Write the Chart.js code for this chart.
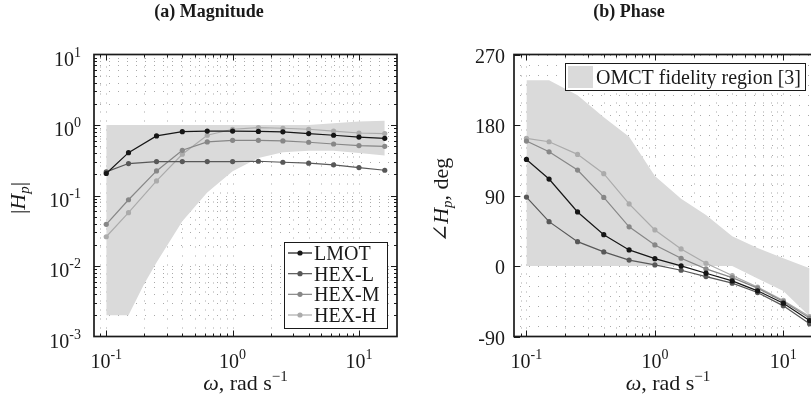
<!DOCTYPE html>
<html>
<head>
<meta charset="utf-8">
<script src="https://cdn.jsdelivr.net/npm/chart.js@4.4.1/dist/chart.umd.min.js"></script>
<style>
  html, body { margin: 0; padding: 0; background: #fff; overflow: hidden; width: 811px; height: 409px; }
  #wrap { position: relative; width: 811px; height: 409px; overflow: hidden; }
  canvas { position: absolute; top: 0; }
  #magCanvas { left: 0; width: 405px; height: 409px; }
  #phaseCanvas { left: 405px; width: 425px; height: 409px; }
</style>
</head>
<body>
<div id="wrap">
  <canvas id="magCanvas" width="405" height="409"></canvas>
  <canvas id="phaseCanvas" width="425" height="409"></canvas>
</div>
<script>
// ---- data -------------------------------------------------------------
// forcing frequencies, rad/s
const omega = [0.1, 0.15, 0.25, 0.4, 0.63, 1, 1.6, 2.5, 4, 6.3, 10, 16];

const seriesNames = ['LMOT', 'HEX-L', 'HEX-M', 'HEX-H'];

// |Hp| magnitude per configuration
const magLMOT = [0.205, 0.405, 0.70, 0.805, 0.82, 0.82, 0.81, 0.80, 0.755, 0.715, 0.675, 0.648];
const magHEXL = [0.216, 0.284, 0.303, 0.303, 0.303, 0.303, 0.306, 0.296, 0.287, 0.272, 0.249, 0.228];
const magHEXM = [0.039, 0.087, 0.223, 0.438, 0.575, 0.607, 0.607, 0.594, 0.569, 0.538, 0.51, 0.499];
const magHEXH = [0.026, 0.057, 0.161, 0.385, 0.715, 0.87, 0.918, 0.90, 0.87, 0.82, 0.77, 0.755];

// phase of Hp, deg
const phLMOT = [136, 111, 69, 40, 20.5, 9.4, 0.1, -9.2, -19, -31.7, -47.5, -69.6];
const phHEXL = [88, 56.6, 31.1, 18, 7.6, 1.4, -5.4, -13.5, -21.9, -33.9, -50.9, -73.8];
const phHEXM = [159.5, 145.8, 122.5, 87.5, 50, 26.9, 9.9, -3.7, -14.8, -28.3, -45.4, -66.5];
const phHEXH = [162.9, 158.6, 142.5, 117.8, 79.2, 46, 21.8, 3.5, -12.2, -27, -44, -64.5];

// OMCT fidelity region bounds
const regionMagOmega = [0.1, 0.15, 0.2, 0.25, 0.4, 0.63, 1, 1.6, 2.5, 4, 6.3, 10, 16];
const regionMagUpper = [1, 1, 1, 1, 1, 1, 1, 1, 1, 1, 1.06, 1.12, 1.15];
const regionMagLower = [0.002, 0.002, 0.0056, 0.0112, 0.043, 0.11, 0.22, 0.34, 0.41, 0.43, 0.43, 0.40, 0.37];

const regionPhOmega = [0.1, 0.15, 0.25, 0.4, 0.63, 1, 1.6, 2.5, 4, 6.3, 10, 16];
const regionPhUpper = [237, 237, 218, 190, 165, 115, 86, 65, 38, 23, 10, -3];
const regionPhLower = [0, 0, 0, 0, 0, 0, 0, 0, 0, -16, -32, -64];

const regionName = 'OMCT fidelity region [3]';

// tick labels
const omegaTickValues = [0.1, 1, 10];
const omegaTickExps = ['-1', '0', '1'];
const magTickValues = [0.001, 0.01, 0.1, 1, 10];
const magTickExps = ['-3', '-2', '-1', '0', '1'];
const phTickValues = [-90, 0, 90, 180, 270];
const phTickLabels = ['-90', '0', '90', '180', '270'];

// ---- style -------------------------------------------------------------
const SERIF = '"Liberation Serif", "DejaVu Serif", serif';
const seriesColors = ['#161616', '#585858', '#878787', '#ababab'];
const REGION_COLOR = '#dadada';
const GRID_COLOR = '#a9a9a9';
const INK = '#1a1a1a';

function fnt(size, style) { return (style ? style + ' ' : '') + size + 'px ' + SERIF; }

function drawRich(ctx, parts, x, y, align) {
  let w = 0;
  parts.forEach(p => { ctx.font = p.f; p.w = ctx.measureText(p.t).width; w += p.w; });
  let cx = align === 'center' ? x - w / 2 : align === 'right' ? x - w : x;
  ctx.textAlign = 'left';
  ctx.textBaseline = 'alphabetic';
  parts.forEach(p => { ctx.font = p.f; ctx.fillText(p.t, cx, y + (p.dy || 0)); cx += p.w; });
}

function logTicks(min, max) {
  const out = [];
  for (let e = Math.floor(Math.log10(min)); e <= Math.ceil(Math.log10(max)); e++) {
    for (let k = 1; k <= 9; k++) {
      const v = k * Math.pow(10, e);
      if (v > min * 1.0001 && v < max * 0.9999) out.push({ v, major: k === 1 });
    }
  }
  return out;
}
function phaseTicks() {
  const out = [];
  for (let i = 0; i <= 28; i++) out.push({ v: -90 + i * 90 / 7, major: i % 7 === 0 });
  return out;
}

function pts(xs, ys) { return xs.map((x, i) => ({ x, y: ys[i] })); }

function seriesSets(arrays) {
  return arrays.map((arr, i) => ({
    label: seriesNames[i],
    data: pts(omega, arr),
    borderColor: seriesColors[i],
    backgroundColor: seriesColors[i],
    borderWidth: 1.2,
    pointRadius: 2.6,
    pointBorderWidth: 0,
    pointBackgroundColor: seriesColors[i],
    fill: false,
    tension: 0,
    order: i + 1
  }));
}
function regionSets(xs, upper, lower) {
  return [
    { label: regionName, data: pts(xs, upper), borderWidth: 0, pointRadius: 0,
      backgroundColor: REGION_COLOR, borderColor: 'rgba(0,0,0,0)', fill: '+1', order: 10 },
    { label: 'lower', data: pts(xs, lower), borderWidth: 0, pointRadius: 0,
      borderColor: 'rgba(0,0,0,0)', fill: false, order: 11 }
  ];
}

// grid, frame, tick marks and all annotation text
function decorPlugin(cfg) {
  return {
    id: 'decor',
    beforeDatasetsDraw(chart) {
      const { ctx, chartArea: ca } = chart;
      const xs = chart.scales.x, ys = chart.scales.y;
      ctx.save();
      ctx.beginPath(); ctx.rect(ca.left, ca.top, ca.width, ca.height); ctx.clip();
      ctx.strokeStyle = GRID_COLOR; ctx.lineWidth = 1; ctx.setLineDash([1, 8]);
      cfg.xTicks.forEach(t => {
        const px = Math.round(xs.getPixelForValue(t.v)) + 0.5;
        ctx.beginPath(); ctx.moveTo(px, ca.top + 3); ctx.lineTo(px, ca.bottom); ctx.stroke();
      });
      cfg.yTicks.forEach(t => {
        const py = Math.round(ys.getPixelForValue(t.v)) + 0.5;
        ctx.beginPath(); ctx.moveTo(ca.left + 6, py); ctx.lineTo(ca.right, py); ctx.stroke();
      });
      ctx.restore();
    },
    afterDatasetsDraw(chart) {
      const { ctx, chartArea: ca } = chart;
      const xs = chart.scales.x, ys = chart.scales.y;
      ctx.save();
      ctx.strokeStyle = INK; ctx.lineWidth = 1;
      cfg.xTicks.forEach(t => {
        const px = Math.round(xs.getPixelForValue(t.v)) + 0.5;
        const len = t.major ? 6 : 3;
        ctx.beginPath();
        ctx.moveTo(px, ca.bottom); ctx.lineTo(px, ca.bottom - len);
        ctx.moveTo(px, ca.top); ctx.lineTo(px, ca.top + len);
        ctx.stroke();
      });
      cfg.yTicks.forEach(t => {
        if (!t.major && !cfg.yMinorTicks) return;
        const py = Math.round(ys.getPixelForValue(t.v)) + 0.5;
        const len = t.major ? 6 : 3;
        ctx.beginPath();
        ctx.moveTo(ca.left, py); ctx.lineTo(ca.left + len, py);
        ctx.moveTo(ca.right, py); ctx.lineTo(ca.right - len, py);
        ctx.stroke();
      });
      ctx.lineWidth = 1.7;
      ctx.strokeRect(ca.left, ca.top, ca.width, ca.height);
      ctx.restore();
    },
    afterDraw(chart) {
      const { ctx, chartArea: ca } = chart;
      const xs = chart.scales.x, ys = chart.scales.y;
      ctx.save();
      ctx.fillStyle = INK;
      // x tick labels
      omegaTickValues.forEach((v, i) => {
        drawRich(ctx, [{ t: '10', f: fnt(20) }, { t: omegaTickExps[i], f: fnt(14), dy: -9 }],
          xs.getPixelForValue(v), ca.bottom + 31.5, 'center');
      });
      // y tick labels
      cfg.drawYLabels(ctx, ca, ys);
      // x axis title
      drawRich(ctx, [
        { t: 'ω', f: fnt(22, 'italic') },
        { t: ', rad s', f: fnt(22) },
        { t: '−1', f: fnt(15), dy: -9 }
      ], (ca.left + ca.right) / 2, ca.bottom + 53.5, 'center');
      // y axis title
      ctx.save();
      ctx.translate(cfg.yTitleX, cfg.yTitleY);
      ctx.rotate(-Math.PI / 2);
      drawRich(ctx, cfg.yTitleParts, 0, 0, 'center');
      ctx.restore();
      // panel title
      ctx.font = fnt(18, 'bold');
      ctx.textAlign = 'center'; ctx.textBaseline = 'alphabetic';
      ctx.fillText(cfg.title, cfg.titleX, 17);
      // legend
      cfg.drawLegend(ctx);
      ctx.restore();
    }
  };
}

function baseOptions(yScale, pad) {
  return {
    responsive: false,
    animation: false,
    devicePixelRatio: 1,
    layout: { padding: pad },
    plugins: { legend: { display: false }, tooltip: { enabled: false } },
    scales: {
      x: { type: 'logarithmic', min: 0.08, max: 20, display: false },
      y: Object.assign({ display: false }, yScale)
    }
  };
}

// ---- (a) magnitude ----------------------------------------------------
const magCfg = {
  xTicks: logTicks(0.08, 20),
  yTicks: logTicks(0.001, 10),
  yMinorTicks: true,
  title: '(a) Magnitude',
  titleX: 209,
  yTitleX: 25, yTitleY: 198,
  yTitleParts: [
    { t: '|', f: fnt(22) },
    { t: 'H', f: fnt(22, 'italic') },
    { t: 'p', f: fnt(15, 'italic'), dy: 4 },
    { t: '|', f: fnt(22) }
  ],
  drawYLabels(ctx, ca, ys) {
    magTickValues.forEach((v, i) => {
      const py = ys.getPixelForValue(v);
      drawRich(ctx, [{ t: '10', f: fnt(20) }, { t: magTickExps[i], f: fnt(14), dy: -9 }],
        ca.left - 13, py + 11.3, 'right');
    });
  },
  drawLegend(ctx) {
    const bx = 284.5, by = 242.5, bw = 103, bh = 86;
    ctx.fillStyle = '#fff';
    ctx.fillRect(bx, by, bw, bh);
    ctx.strokeStyle = INK; ctx.lineWidth = 1;
    ctx.strokeRect(bx, by, bw, bh);
    seriesNames.forEach((name, i) => {
      const cy = 253 + i * 20.67;
      ctx.strokeStyle = seriesColors[i]; ctx.lineWidth = 1.2;
      ctx.beginPath(); ctx.moveTo(288, cy); ctx.lineTo(312, cy); ctx.stroke();
      ctx.fillStyle = seriesColors[i];
      ctx.beginPath(); ctx.arc(300, cy, 2.6, 0, Math.PI * 2); ctx.fill();
      ctx.fillStyle = INK;
      ctx.font = fnt(20); ctx.textAlign = 'left'; ctx.textBaseline = 'alphabetic';
      ctx.fillText(name, 314, cy + 7);
    });
  }
};

new Chart(document.getElementById('magCanvas'), {
  type: 'line',
  data: {
    datasets: regionSets(regionMagOmega, regionMagUpper, regionMagLower)
      .concat(seriesSets([magLMOT, magHEXL, magHEXM, magHEXH]))
  },
  options: baseOptions({ type: 'logarithmic', min: 0.001, max: 10 },
    { left: 94, right: 8, top: 54.5, bottom: 72.5 }),
  plugins: [decorPlugin(magCfg)]
});

// ---- (b) phase --------------------------------------------------------
const phCfg = {
  xTicks: logTicks(0.08, 20),
  yTicks: phaseTicks(),
  yMinorTicks: false,
  title: '(b) Phase',
  titleX: 224,
  yTitleX: 43, yTitleY: 200,
  yTitleParts: [
    { t: '∠', f: fnt(22) },
    { t: 'H', f: fnt(22, 'italic') },
    { t: 'p', f: fnt(15, 'italic'), dy: 4 },
    { t: ', deg', f: fnt(22) }
  ],
  drawYLabels(ctx, ca, ys) {
    phTickValues.forEach((v, i) => {
      const py = ys.getPixelForValue(v);
      drawRich(ctx, [{ t: phTickLabels[i], f: fnt(20) }], ca.left - 9, py + 8, 'right');
    });
  },
  drawLegend(ctx) {
    const bx = 160.5, by = 63.5, bw = 240, bh = 27;
    ctx.fillStyle = '#fff';
    ctx.fillRect(bx, by, bw, bh);
    ctx.strokeStyle = INK; ctx.lineWidth = 1;
    ctx.strokeRect(bx, by, bw, bh);
    ctx.fillStyle = REGION_COLOR;
    ctx.fillRect(163, 66, 25, 22);
    ctx.fillStyle = INK;
    ctx.font = fnt(20); ctx.textAlign = 'left'; ctx.textBaseline = 'alphabetic';
    ctx.fillText(regionName, 191, 84);
  }
};

new Chart(document.getElementById('phaseCanvas'), {
  type: 'line',
  data: {
    datasets: regionSets(regionPhOmega, regionPhUpper, regionPhLower)
      .concat(seriesSets([phLMOT, phHEXL, phHEXM, phHEXH]))
  },
  options: baseOptions({ type: 'linear', min: -90, max: 270 },
    { left: 109, right: 8, top: 54.5, bottom: 72.5 }),
  plugins: [decorPlugin(phCfg)]
});
</script>
</body>
</html>
